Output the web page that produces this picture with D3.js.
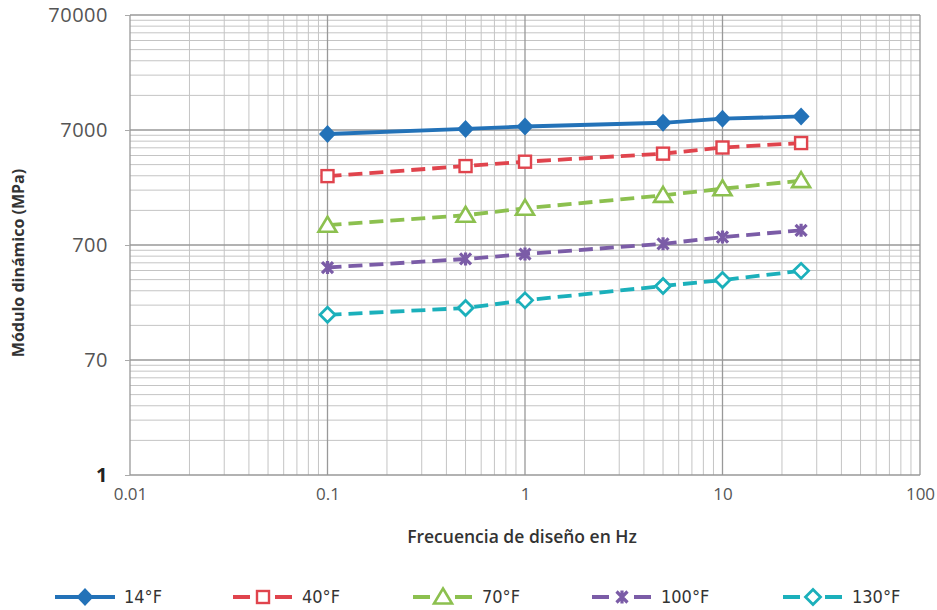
<!DOCTYPE html>
<html>
<head>
<meta charset="utf-8">
<script src="https://cdn.jsdelivr.net/npm/d3@7"></script>
<style>
  body { margin: 0; background: #fff; }
  svg { display: block; }
</style>
</head>
<body>
<div id="chart"></div>
<script>
// frequency (Hz) and dynamic modulus (MPa)
const frequencies = [0.1, 0.5, 1, 5, 10, 25];
const seriesNames = ["14°F", "40°F", "70°F", "100°F", "130°F"];
const mod14 = [6460, 7150, 7510, 8090, 8780, 9190];
const mod40 = [2780, 3400, 3710, 4360, 4930, 5390];
const mod70 = [1040, 1270, 1460, 1890, 2160, 2540];
const mod100 = [446, 529, 584, 717, 820, 939];
const mod130 = [173, 198, 231, 308, 347, 417];
const yTickValues = [7, 70, 700, 7000, 70000];
const yTickLabels = ["1", "70", "700", "7000", "70000"];
const xTickValues = [0.01, 0.1, 1, 10, 100];
const xTickLabels = ["0.01", "0.1", "1", "10", "100"];

const width = 937, height = 610;
const margin = {top: 15, right: 17, bottom: 135, left: 130};

const svg = d3.select("#chart").append("svg")
    .attr("width", width)
    .attr("height", height);

const x = d3.scaleLog()
    .domain([0.01, 100])
    .range([margin.left, width - margin.right]);

const y = d3.scaleLog()
    .domain([7, 70000])
    .range([height - margin.bottom, margin.top]);

const series = [
    {name: seriesNames[0], values: mod14, color: "#2372b8", dash: null, marker: "diamondFill"},
    {name: seriesNames[1], values: mod40, color: "#e0444d", dash: "14,7", marker: "square"},
    {name: seriesNames[2], values: mod70, color: "#8cc04f", dash: "14,7", marker: "triangle"},
    {name: seriesNames[3], values: mod100, color: "#7b5ca7", dash: "14,7", marker: "star"},
    {name: seriesNames[4], values: mod130, color: "#1bb0bb", dash: "14,7", marker: "diamond"}
];

// minor grid values: 2..9 times each decade start
const minorX = [];
xTickValues.slice(0, -1).forEach(b => { for (let k = 2; k < 10; k++) minorX.push(b * k); });
const minorY = [];
yTickValues.slice(0, -1).forEach(b => { for (let k = 2; k < 10; k++) minorY.push(b * k); });

const grid = svg.append("g");
grid.selectAll(".mx").data(minorX).join("line")
    .attr("x1", d => x(d)).attr("x2", d => x(d))
    .attr("y1", y(7)).attr("y2", y(70000))
    .attr("stroke", "#c4c4c4").attr("stroke-width", 1);
grid.selectAll(".my").data(minorY).join("line")
    .attr("y1", d => y(d)).attr("y2", d => y(d))
    .attr("x1", x(0.01)).attr("x2", x(100))
    .attr("stroke", "#c4c4c4").attr("stroke-width", 1);
grid.selectAll(".Mx").data(xTickValues).join("line")
    .attr("x1", d => x(d)).attr("x2", d => x(d))
    .attr("y1", y(7)).attr("y2", y(70000))
    .attr("stroke", "#999").attr("stroke-width", 1.3);
grid.selectAll(".My").data(yTickValues).join("line")
    .attr("y1", d => y(d)).attr("y2", d => y(d))
    .attr("x1", x(0.01)).attr("x2", x(100))
    .attr("stroke", "#999").attr("stroke-width", 1.3);

// y axis
svg.append("g")
    .attr("transform", `translate(${margin.left},0)`)
    .call(d3.axisLeft(y).tickValues(yTickValues).tickSize(5).tickPadding(17)
        .tickFormat((d, i) => yTickLabels[i]))
    .call(g => g.select(".domain").remove())
    .call(g => g.selectAll(".tick line").attr("stroke", "#aaa"))
    .call(g => g.selectAll(".tick text")
        .attr("font-family", "Open Sans, sans-serif")
        .attr("font-size", 20)
        .attr("letter-spacing", 0.5)
        .attr("fill", (d, i) => i === 0 ? "#222" : "#555")
        .attr("font-weight", (d, i) => i === 0 ? 700 : 400));

// x axis
svg.append("g")
    .attr("transform", `translate(0,${height - margin.bottom})`)
    .call(d3.axisBottom(x).tickValues(xTickValues).tickSize(0).tickPadding(13)
        .tickFormat((d, i) => xTickLabels[i]))
    .call(g => g.select(".domain").remove())
    .call(g => g.selectAll(".tick text")
        .attr("font-family", "Open Sans, sans-serif")
        .attr("font-size", 17)
        .attr("fill", "#555"));

// axis titles
svg.append("text")
    .attr("transform", `translate(24,${(y(7) + y(70000)) / 2 + 18}) rotate(-90)`)
    .attr("text-anchor", "middle")
    .attr("font-family", "Open Sans, sans-serif")
    .attr("font-size", 16)
    .attr("font-weight", 700)
    .attr("fill", "#333")
    .text("Módulo dinámico (MPa)");

svg.append("text")
    .attr("x", 522)
    .attr("y", 543)
    .attr("text-anchor", "middle")
    .attr("font-family", "Open Sans, sans-serif")
    .attr("font-size", 17.5)
    .attr("font-weight", 600)
    .attr("fill", "#333")
    .text("Frecuencia de diseño en Hz");

function drawMarker(g, type, color) {
    if (type === "diamondFill") {
        g.append("path").attr("d", "M0,-9L8.5,0L0,9L-8.5,0Z").attr("fill", color);
    } else if (type === "diamond") {
        g.append("path").attr("d", "M0,-7.5L7.5,0L0,7.5L-7.5,0Z")
            .attr("fill", "#fff").attr("stroke", color).attr("stroke-width", 2.8);
    } else if (type === "square") {
        g.append("rect").attr("x", -6).attr("y", -6).attr("width", 12).attr("height", 12)
            .attr("fill", "#fff").attr("stroke", color).attr("stroke-width", 2.4);
    } else if (type === "triangle") {
        g.append("path").attr("d", "M0,-8.5L9,6.5L-9,6.5Z")
            .attr("fill", "#fff").attr("stroke", color).attr("stroke-width", 2.6);
    } else if (type === "star") {
        g.append("path").attr("d", "M-5.5,-5.5L5.5,5.5M-5.5,5.5L5.5,-5.5M0,-6.5L0,6.5")
            .attr("stroke", color).attr("stroke-width", 3.2);
    }
}

const line = d3.line()
    .x(d => x(d[0]))
    .y(d => y(d[1]));

series.forEach(s => {
    const pts = frequencies.map((f, i) => [f, s.values[i]]);
    svg.append("path")
        .datum(pts)
        .attr("d", line)
        .attr("fill", "none")
        .attr("stroke", s.color)
        .attr("stroke-width", 3.8)
        .attr("stroke-dasharray", s.dash);
    svg.append("g").selectAll("g")
        .data(pts)
        .join("g")
        .attr("transform", d => `translate(${x(d[0])},${y(d[1])})`)
        .each(function() { drawMarker(d3.select(this), s.marker, s.color); });
});

// legend
const legendX = [55, 233, 413, 592, 783];
const legend = svg.append("g").attr("transform", "translate(0,597)");
series.forEach((s, i) => {
    const g = legend.append("g").attr("transform", `translate(${legendX[i]},0)`);
    if (s.dash) {
        g.append("line").attr("x1", 0).attr("x2", 17).attr("stroke", s.color).attr("stroke-width", 4);
        g.append("line").attr("x1", 42).attr("x2", 59).attr("stroke", s.color).attr("stroke-width", 4);
    } else {
        g.append("line").attr("x1", 0).attr("x2", 60).attr("stroke", s.color).attr("stroke-width", 4);
    }
    drawMarker(g.append("g").attr("transform", "translate(30,0)"), s.marker, s.color);
    g.append("text")
        .attr("x", 69)
        .attr("dy", "0.35em")
        .attr("font-family", "Liberation Sans Narrow, DejaVu Sans Condensed, sans-serif")
        .attr("font-size", 18)
        .attr("fill", "#333")
        .text(s.name);
});
</script>
</body>
</html>
